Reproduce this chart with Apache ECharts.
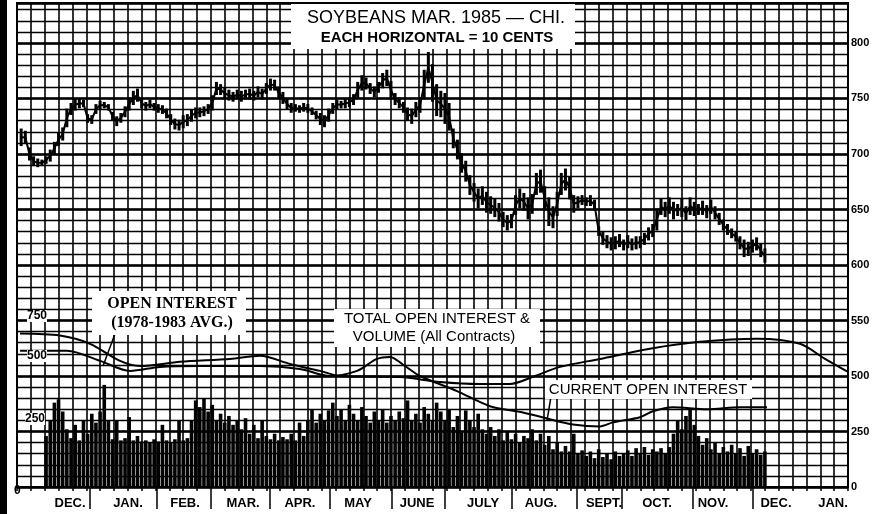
<!DOCTYPE html>
<html><head><meta charset="utf-8">
<script src="https://cdn.jsdelivr.net/npm/echarts@6/dist/echarts.min.js"></script>
<style>html,body{margin:0;padding:0;background:#fff}#c{width:880px;height:514px}</style>
</head><body><div id="c"></div><script>
// ---------- axis labels ----------
const monthNames = ['DEC.','JAN.','FEB.','MAR.','APR.','MAY','JUNE','JULY','AUG.','SEPT.','OCT.','NOV.','DEC.','JAN.'];
const monthLabelWeek = [3.83,8.01,12.13,16.32,20.43,24.62,28.88,33.65,37.83,42.38,46.21,50.25,54.8,58.92];
const monthSepWeek = [5.27,10.11,14.01,18.27,22.6,27.08,30.9,35.74,40.43,43.68,48.81,53.14];
const rightTickValues = [800,750,700,650,600,550,500,450,400];
const rightTickLabels = ['800','750','700','650','600','550','500','250','0'];
const leftTickLabels = ['750','500','250','0'];

// ---------- price (cents), one reading every 0.3 week starting at week 0.3 ----------
const priceFirstWeek = 0.3, priceStepWeek = 0.3;
const priceHigh = [722,720,705,697,695,694,697,703,710,718,723,740,745,749,749,748,735,734,744,747,
746,744,737,733,736,742,750,756,758,750,746,748,745,744,743,740,735,731,730,734,
735,739,741,741,742,744,752,764,762,759,757,755,757,756,757,758,756,760,758,763,
767,766,760,755,749,745,744,743,745,744,741,738,736,734,740,745,748,747,749,750,
753,764,770,768,763,760,764,772,775,765,754,750,746,741,740,746,750,775,791,780,
762,756,754,745,722,712,700,693,680,673,668,670,665,661,659,655,647,644,645,662,
668,664,660,663,682,685,670,660,652,665,682,686,679,662,661,662,660,662,658,634,
629,626,624,625,627,622,626,623,625,625,628,633,636,650,659,656,660,656,654,659,
652,660,656,654,657,653,658,652,646,640,636,632,629,625,622,620,622,624,618,614];
const priceLow = [708,710,695,690,689,690,692,694,700,708,713,725,736,740,742,743,729,728,737,741,
742,740,731,726,729,734,740,745,748,742,740,742,740,738,737,733,727,723,722,724,
726,730,733,734,735,737,740,754,754,750,749,748,750,748,750,750,749,752,750,755,
758,758,750,746,741,738,739,738,739,738,736,732,727,725,730,737,741,742,742,743,
745,751,758,759,755,752,756,760,762,750,745,742,738,731,728,734,738,750,765,748,
735,734,728,722,706,696,684,676,664,658,652,655,648,647,644,640,635,632,634,646,
652,650,642,647,664,666,650,636,634,645,664,668,660,648,652,655,654,654,650,627,
619,616,614,615,617,614,616,614,615,616,619,623,626,632,646,644,647,642,645,644,
641,646,645,646,646,643,647,642,637,632,628,625,622,615,608,609,612,614,608,603];

// ---------- volume (thousand contracts), one reading every 0.3 week starting at week 2.1 ----------
const volFirstWeek = 2.1, volStepWeek = 0.3;
const volume = [230,300,380,395,340,260,220,280,210,300,240,330,290,340,460,300,215,300,210,220,
315,210,230,205,210,200,215,205,280,210,200,215,300,210,220,300,390,360,400,340,
370,300,330,290,320,280,300,260,310,240,280,220,300,230,215,240,210,225,215,240,
210,290,230,300,350,290,330,300,345,380,320,350,300,370,330,300,360,320,290,340,
300,350,290,320,300,340,310,390,300,330,290,360,330,300,380,340,300,350,270,320,
250,345,300,270,330,260,240,270,230,260,210,250,215,240,200,230,220,260,210,240,
190,230,170,200,160,185,160,240,150,165,140,160,130,170,135,150,125,160,140,150,
165,140,175,150,180,145,170,160,175,150,180,240,300,260,320,350,280,230,190,220,
170,200,150,180,160,190,150,175,140,185,150,170,145,160];

// ---------- open interest lines ----------
const oiAvgWeek  = [0.22,3.10,5.27,7.44,8.88,11.77,15.38,17.55,19.71,21.88,23.32,27.65,30.54,33.43,35.60,37.40,39.21,42.09,45.70,49.31,53.43,56.53,58.34,60.0];
const oiAvgValue = [691,682,645,568,545,564,577,591,554,523,500,495,473,464,464,500,541,577,623,654,668,645,577,518];
const oiCurWeek  = [0.22,3.61,5.99,8.16,10.32,13.21,17.55,20.43,22.60,24.55,25.99,26.93,28.01,29.10,31.77,34.15,36.53,38.48,40.14,42.09,43.03,44.98,45.92,47.36,49.82,52.20,54.15];
const oiCurValue = [614,614,568,523,541,545,545,532,500,523,577,586,545,500,432,364,336,305,282,273,291,314,341,359,350,359,359];

// ---------- build series data ----------
const priceData = priceHigh.map((h, i) => [priceFirstWeek + i * priceStepWeek, h, priceLow[i]]);
const volData = volume.map((v, i) => [volFirstWeek + i * volStepWeek, v]);
const avgData = oiAvgWeek.map((w, i) => [w, oiAvgValue[i]]);
const curData = oiCurWeek.map((w, i) => [w, oiCurValue[i]]);

const FONT = '"Liberation Sans", Arial, sans-serif';
const chart = echarts.init(document.getElementById('c'), null, {renderer: 'canvas'});
const grid = {left: 17, right: 32, top: 3, bottom: 27};

chart.setOption({
  animation: false,
  backgroundColor: '#fff',
  grid: Object.assign({show: true, borderColor: '#000', borderWidth: 2, backgroundColor: 'transparent'}, grid),
  xAxis: [{
    type: 'value', min: 0, max: 60, interval: 1, position: 'bottom',
    axisLine: {show: true, lineStyle: {color: '#000', width: 2}},
    splitLine: {show: false},
    axisTick: {show: true, customValues: monthSepWeek, length: 22, lineStyle: {color: '#000', width: 1.5}},
    axisLabel: {show: true, customValues: monthLabelWeek, margin: 10, color: '#000',
      fontFamily: FONT, fontSize: 13, fontWeight: 'bold',
      formatter: v => monthNames[monthLabelWeek.indexOf(v)] || ''}
  }, {
    type: 'value', min: 0, max: 60, interval: 1, position: 'bottom',
    axisLine: {show: false}, splitLine: {show: true, lineStyle: {color: '#000', width: 1.6}},
    axisTick: {show: true, length: 4, lineStyle: {color: '#000', width: 1.5}},
    axisLabel: {show: false}
  }],
  yAxis: [{
    type: 'value', min: 400, max: 836, interval: 10, position: 'right',
    axisLine: {show: true, lineStyle: {color: '#000', width: 2}},
    axisTick: {show: false},
    splitLine: {show: true, lineStyle: {color: '#000', width: 1.4}},
    axisLabel: {show: true, margin: 3, color: '#000', fontFamily: FONT, fontSize: 11, fontWeight: 'bold',
      formatter: v => { const k = rightTickValues.indexOf(v); return k >= 0 ? rightTickLabels[k] : ''; }}
  }, {
    type: 'value', min: 400, max: 836, interval: 50, position: 'right',
    axisLine: {show: false}, axisTick: {show: false}, axisLabel: {show: false},
    splitLine: {show: true, lineStyle: {color: '#000', width: 2.6}}
  }, {
    type: 'value', min: 0, max: 2180, show: false, splitLine: {show: false}
  }],
  series: [{
    type: 'bar', xAxisIndex: 0, yAxisIndex: 2, data: volData, barWidth: 3.6,
    itemStyle: {color: '#000'}, z: 3, silent: true
  }, {
    type: 'line', xAxisIndex: 0, yAxisIndex: 2, data: avgData, symbol: 'none', smooth: 0.3,
    lineStyle: {color: '#000', width: 2}, z: 4,
    markLine: {silent: true, symbol: ['none', 'none'], label: {show: false},
      lineStyle: {color: '#000', width: 1.5, type: 'solid'},
      data: [[{coord: [7.22, 714]}, {coord: [6.21, 545]}]]}
  }, {
    type: 'line', xAxisIndex: 0, yAxisIndex: 2, data: curData, symbol: 'none', smooth: 0.3,
    lineStyle: {color: '#000', width: 2}, z: 4,
    markLine: {silent: true, symbol: ['none', 'none'], label: {show: false},
      lineStyle: {color: '#000', width: 1.5, type: 'solid'},
      data: [[{coord: [38.56, 409]}, {coord: [38.27, 300]}]]}
  }, {
    type: 'custom', xAxisIndex: 0, yAxisIndex: 0, data: priceData, z: 5,
    renderItem: (params, api) => {
      const i = params.dataIndex;
      const x = api.value(0);
      const a = api.coord([x, api.value(1)]);
      const b = api.coord([x, api.value(2)]);
      const children = [{type: 'line', shape: {x1: a[0], y1: a[1] - 1, x2: b[0], y2: b[1] + 1},
        style: {stroke: '#000', lineWidth: 3}}];
      if (i > 0) {
        const px = priceData[i - 1][0];
        const pm = (priceData[i - 1][1] + priceData[i - 1][2]) / 2;
        const cm = (api.value(1) + api.value(2)) / 2;
        const p = api.coord([px, pm]);
        const c = api.coord([x, cm]);
        children.push({type: 'line', shape: {x1: p[0], y1: p[1], x2: c[0], y2: c[1]},
          style: {stroke: '#000', lineWidth: 2}});
      }
      return {type: 'group', children};
    }
  }],
  graphic: [
    {type: 'rect', left: 0, top: 0, shape: {width: 7, height: 514}, style: {fill: '#000'}, z: 100},
    {type: 'rect', left: 291, top: 4, shape: {width: 284, height: 45}, style: {fill: '#fff'}, z: 100},
    {type: 'text', x: 436, y: 18, z: 101, style: {text: 'SOYBEANS MAR. 1985 — CHI.', fill: '#000',
      font: '18px ' + FONT, textAlign: 'center', textVerticalAlign: 'middle'}},
    {type: 'text', x: 437, y: 38, z: 101, style: {text: 'EACH HORIZONTAL = 10 CENTS', fill: '#000',
      font: 'bold 15px ' + FONT, textAlign: 'center', textVerticalAlign: 'middle'}},
    {type: 'rect', left: 92, top: 291, shape: {width: 154, height: 44}, style: {fill: '#fff'}, z: 100},
    {type: 'text', x: 172, y: 304, z: 101, style: {text: 'OPEN INTEREST', fill: '#000',
      font: 'bold 16px "Liberation Serif", serif', textAlign: 'center', textVerticalAlign: 'middle'}},
    {type: 'text', x: 172, y: 323, z: 101, style: {text: '(1978-1983 AVG.)', fill: '#000',
      font: 'bold 16px "Liberation Serif", serif', textAlign: 'center', textVerticalAlign: 'middle'}},
    {type: 'rect', left: 334, top: 309, shape: {width: 206, height: 38}, style: {fill: '#fff'}, z: 100},
    {type: 'text', x: 437, y: 319, z: 101, style: {text: 'TOTAL OPEN INTEREST &', fill: '#000',
      font: '15px ' + FONT, textAlign: 'center', textVerticalAlign: 'middle'}},
    {type: 'text', x: 434, y: 337, z: 101, style: {text: 'VOLUME (All Contracts)', fill: '#000',
      font: '15px ' + FONT, textAlign: 'center', textVerticalAlign: 'middle'}},
    {type: 'rect', left: 545, top: 380, shape: {width: 207, height: 19}, style: {fill: '#fff'}, z: 100},
    {type: 'text', x: 648, y: 390, z: 101, style: {text: 'CURRENT OPEN INTEREST', fill: '#000',
      font: '15px ' + FONT, textAlign: 'center', textVerticalAlign: 'middle'}},
    {type: 'text', x: 27, y: 316, z: 101, style: {text: leftTickLabels[0], fill: '#000',
      font: 'bold 12px ' + FONT, textVerticalAlign: 'middle', backgroundColor: '#fff'}},
    {type: 'text', x: 27, y: 356, z: 101, style: {text: leftTickLabels[1], fill: '#000',
      font: 'bold 12px ' + FONT, textVerticalAlign: 'middle', backgroundColor: '#fff'}},
    {type: 'text', x: 25, y: 419, z: 101, style: {text: leftTickLabels[2], fill: '#000',
      font: 'bold 12px ' + FONT, textVerticalAlign: 'middle', backgroundColor: '#fff'}},
    {type: 'text', x: 14, y: 491, z: 101, style: {text: leftTickLabels[3], fill: '#000',
      font: 'bold 12px ' + FONT, textVerticalAlign: 'middle'}}
  ]
});
</script></body></html>
